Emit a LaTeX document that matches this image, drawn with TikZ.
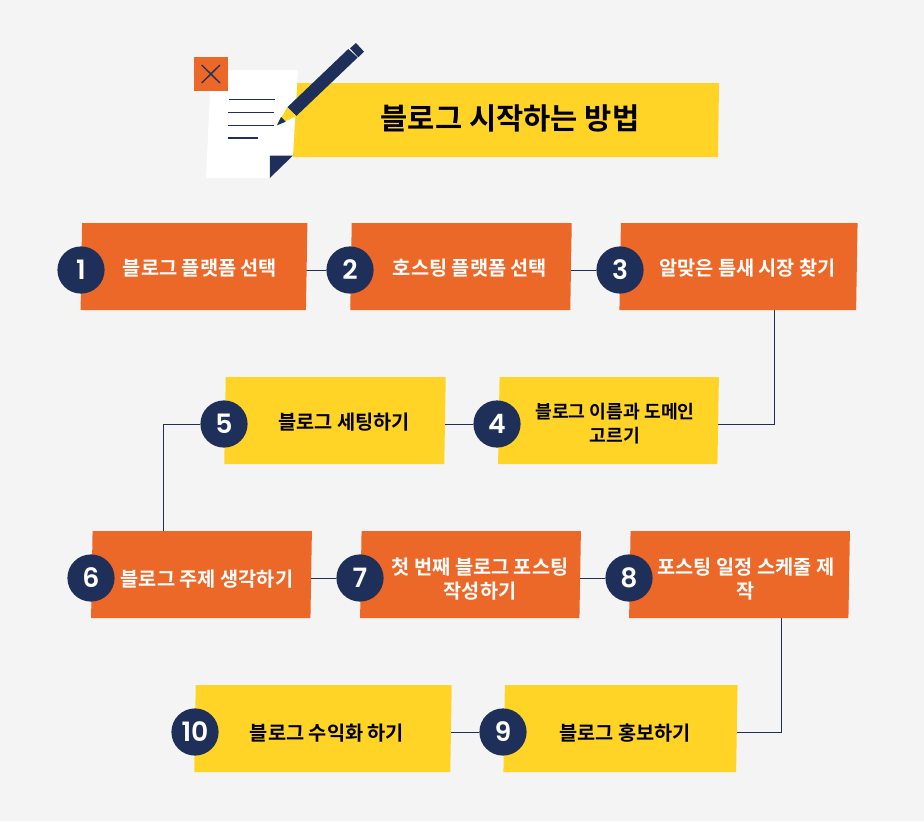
\documentclass[tikz,border=0pt]{standalone}
\usepackage{fontspec}
\setmainfont{Noto Sans CJK KR}[BoldFont={Noto Sans CJK KR Bold}]
\newfontfamily\numfont{Poppins SemiBold}
\usetikzlibrary{backgrounds}
\definecolor{navy}{HTML}{1E2F5A}
\definecolor{orng}{HTML}{EC6828}
\definecolor{yelw}{HTML}{FFD426}
\definecolor{bgc}{HTML}{F4F4F4}
\tikzset{
  x=0.75pt,y=-0.75pt,
  box/.style={rectangle,draw=none,inner sep=0pt,minimum height=65.25pt,xslant=0.017,transform shape},
  obox/.style={box,fill=orng},
  ybox/.style={box,fill=yelw},
  num/.style={circle,fill=navy,text=white,minimum size=35.4pt,inner sep=0pt,font=\numfont\fontsize{20}{20}\selectfont},
  lab/.style={font=\bfseries\fontsize{14.8}{18.5}\selectfont,align=center},
  wlab/.style={lab,text=white},
  klab/.style={lab,text=black},
  conn/.style={draw=navy,line width=0.75pt},
  dark/.style={draw=navy,line width=1pt}
}
\begin{document}
\begin{tikzpicture}
\useasboundingbox (0,0) rectangle (924,821);
% title
\fill[yelw] (294,83) -- (719,83) -- (718,157) -- (293,157) -- cycle;
\node[font=\bfseries\fontsize{22.2}{26}\selectfont,text=black] (title) at (510,118) {블로그 시작하는 방법};
% icon
\fill[white] (211,70) -- (298,70) -- (293,155.5) -- (270,178) -- (206,178) -- cycle;
\fill[navy] (269.8,155.5) -- (293,155.5) -- (269.8,178) -- cycle;
\fill[orng] (194,57) rectangle (228,91);
\draw[dark] (201.7,65) -- (220,83) (220,65) -- (201.7,83);
\draw[dark] (229,99.7) -- (274.7,99.7) (228.3,112.3) -- (274,112.3) (228,125.3) -- (274,125.3) (227.7,138) -- (258,138);
\fill[navy] (287.3,107.3) -- (348.3,49) -- (357.7,57.5) -- (296.3,116) -- cycle;
\fill[navy] (350,48.3) -- (356,43) -- (364,51.7) -- (358.3,57.3) -- cycle;
\fill[yelw] (287.3,107.3) -- (296.3,116) -- (277,125.3) -- cycle;
\fill[navy] (281,117) -- (285.7,121.7) -- (277,125.3) -- cycle;
% boxes
\node[obox,minimum width=169pt] (b1) at (194,266.5) {};
\node[obox,minimum width=165pt] (b2) at (461,266.5) {};
\node[obox,minimum width=177.5pt] (b3) at (738.5,266.5) {};
\node[ybox,minimum width=164.5pt] (b4) at (608.5,420.5) {};
\node[ybox,minimum width=165pt] (b5) at (335,420.5) {};
\node[obox,minimum width=164.5pt] (b6) at (201.5,574.5) {};
\node[obox,minimum width=164.5pt] (b7) at (470.5,574.5) {};
\node[obox,minimum width=164.5pt] (b8) at (739.5,574.5) {};
\node[ybox,minimum width=174.5pt] (b9) at (620.5,728.5) {};
\node[ybox,minimum width=192pt] (b10) at (323,728.5) {};
% numbers
\node[num] (c1) at (81,270) {1};
\node[num] (c2) at (350,270) {2};
\node[num] (c3) at (620,270) {3};
\node[num] (c4) at (497,424) {4};
\node[num] (c5) at (224,424) {5};
\node[num] (c6) at (91,578) {6};
\node[num] (c7) at (360,578) {7};
\node[num] (c8) at (629,578) {8};
\node[num] (c9) at (503,732) {9};
\node[num] (c10) at (195,732) {10};
% labels
\node[wlab] (t1) at (200,268) {블로그 플랫폼 선택};
\node[wlab] (t2) at (470,268) {호스팅 플랫폼 선택};
\node[wlab] (t3) at (747.5,268) {알맞은 틈새 시장 찾기};
\node[klab,font=\bfseries\fontsize{13.7}{18.2}\selectfont] (t4) at (615,423.5) {블로그 이름과 도메인\\고르기};
\node[klab] (t5) at (344,422) {블로그 세팅하기};
\node[wlab] (t6) at (207,579) {블로그 주제 생각하기};
\node[wlab] (t7) at (480,579) {첫 번째 블로그 포스팅\\작성하기};
\node[wlab] (t8) at (746,579) {포스팅 일정 스케줄 제\\작};
\node[klab] (t9) at (625,733) {블로그 홍보하기};
\node[klab] (t10) at (327,733) {블로그 수익화 하기};
% elbows
\coordinate (j3) at (774.5,300);
\coordinate (j6) at (163,540);
\coordinate (j8) at (781.5,610);
\begin{scope}[on background layer]
\fill[bgc] (0,0) rectangle (924,821);
\draw[conn] (c1) -- (c2);
\draw[conn] (c2) -- (c3);
\draw[conn] (j3) |- (c4);
\draw[conn] (c4) -- (c5);
\draw[conn] (c5) -| (j6);
\draw[conn] (c6) -- (c7);
\draw[conn] (c7) -- (c8);
\draw[conn] (j8) |- (c9);
\draw[conn] (c9) -- (c10);
\end{scope}
\end{tikzpicture}
\end{document}
